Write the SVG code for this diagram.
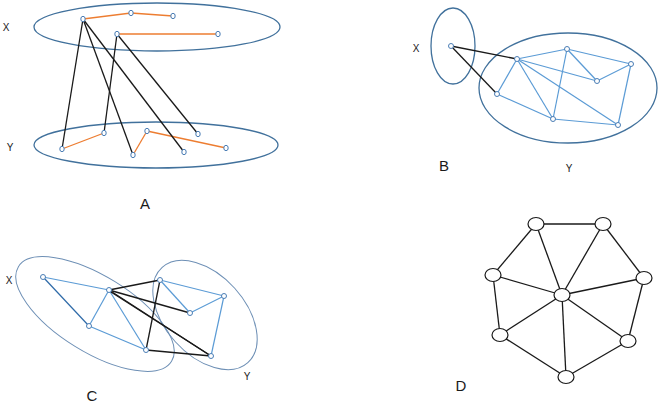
<svg xmlns="http://www.w3.org/2000/svg" width="660" height="404" viewBox="0 0 660 404">
<style>
.set{fill:none;stroke:#41719c;stroke-width:1.3}
.setc{fill:none;stroke:#6d8fb5;stroke-width:1}
.nd{fill:#fff;stroke:#4a7db5;stroke-width:1}
.or{stroke:#ed7d31;stroke-width:1.3;fill:none}
.bk{stroke:#1a1a1a;stroke-width:1.3;fill:none}
.bl{stroke:#5b9bd5;stroke-width:1.2;fill:none}
.db{stroke:#2e6aa8;stroke-width:1.2;fill:none}
.dn{fill:#fff;stroke:#1a1a1a;stroke-width:1.2}
.lb{font-family:"Liberation Sans",Arial,sans-serif;fill:#1a1a1a;text-anchor:middle}
.s{font-size:10px}
.L{font-size:15px}
</style>
<rect width="660" height="404" fill="#fff"/>

<!-- Panel A -->
<g id="A-sets">
<ellipse class="set" cx="157" cy="27" rx="123" ry="24"/>
<ellipse class="set" cx="156" cy="145" rx="122" ry="23"/>
</g>
<g id="A-connectors">
<line class="or" x1="83" y1="19" x2="131" y2="13"/>
<line class="or" x1="131" y1="13" x2="173" y2="16"/>
<line class="or" x1="117" y1="34" x2="218" y2="34"/>
<line class="or" x1="62" y1="149" x2="104" y2="133"/>
<line class="or" x1="133" y1="155" x2="147" y2="131"/>
<line class="or" x1="147" y1="131" x2="226" y2="148"/>
<line class="bk" x1="83" y1="19" x2="62" y2="149"/>
<line class="bk" x1="83" y1="19" x2="133" y2="155"/>
<line class="bk" x1="83" y1="19" x2="184" y2="152"/>
<line class="bk" x1="117" y1="34" x2="104" y2="133"/>
<line class="bk" x1="117" y1="34" x2="198" y2="134"/>
</g>
<g id="A-nodes">
<ellipse id="a1" class="nd" cx="83" cy="19" rx="2.2" ry="2.7"/>
<ellipse id="a2" class="nd" cx="131" cy="13" rx="2.2" ry="2.7"/>
<ellipse id="a3" class="nd" cx="173" cy="16" rx="2.2" ry="2.7"/>
<ellipse id="a4" class="nd" cx="117" cy="34" rx="2.2" ry="2.7"/>
<ellipse id="a5" class="nd" cx="218" cy="34" rx="2.2" ry="2.7"/>
<ellipse id="a6" class="nd" cx="62" cy="149" rx="2.2" ry="2.7"/>
<ellipse id="a7" class="nd" cx="104" cy="133" rx="2.2" ry="2.7"/>
<ellipse id="a8" class="nd" cx="133" cy="155" rx="2.2" ry="2.7"/>
<ellipse id="a9" class="nd" cx="147" cy="131" rx="2.2" ry="2.7"/>
<ellipse id="a10" class="nd" cx="184" cy="152" rx="2.2" ry="2.7"/>
<ellipse id="a11" class="nd" cx="198" cy="134" rx="2.2" ry="2.7"/>
<ellipse id="a12" class="nd" cx="226" cy="148" rx="2.2" ry="2.7"/>
</g>
<g id="A-labels">
<text class="lb s" x="6" y="31">X</text>
<text class="lb s" x="10" y="151">Y</text>
<text class="lb L" x="145" y="209">A</text>
</g>

<!-- Panel B -->
<g id="B-sets">
<ellipse class="set" cx="453" cy="46" rx="22" ry="38"/>
<ellipse class="set" cx="568" cy="88" rx="89" ry="55"/>
</g>
<g id="B-connectors">
<line class="bl" x1="517" y1="59" x2="567" y2="49"/>
<line class="bl" x1="517" y1="59" x2="497" y2="94"/>
<line class="bl" x1="517" y1="59" x2="553" y2="119"/>
<line class="bl" x1="517" y1="59" x2="597" y2="81"/>
<line class="bl" x1="517" y1="59" x2="618" y2="125"/>
<line class="bl" x1="497" y1="94" x2="553" y2="119"/>
<line class="bl" x1="567" y1="49" x2="597" y2="81"/>
<line class="bl" x1="567" y1="49" x2="631" y2="64"/>
<line class="bl" x1="597" y1="81" x2="631" y2="64"/>
<line class="bl" x1="567" y1="49" x2="553" y2="119"/>
<line class="bl" x1="553" y1="119" x2="618" y2="125"/>
<line class="bl" x1="631" y1="64" x2="618" y2="125"/>
<line class="bk" x1="451" y1="46" x2="517" y2="59"/>
<line class="bk" x1="451" y1="46" x2="497" y2="94"/>
</g>
<g id="B-nodes">
<ellipse id="b1" class="nd" cx="451" cy="46" rx="2.5" ry="2.5"/>
<ellipse id="b2" class="nd" cx="517" cy="59" rx="2.5" ry="2.5"/>
<ellipse id="b3" class="nd" cx="497" cy="94" rx="2.5" ry="2.5"/>
<ellipse id="b4" class="nd" cx="567" cy="49" rx="2.5" ry="2.5"/>
<ellipse id="b5" class="nd" cx="597" cy="81" rx="2.5" ry="2.5"/>
<ellipse id="b6" class="nd" cx="631" cy="64" rx="2.5" ry="2.5"/>
<ellipse id="b7" class="nd" cx="553" cy="119" rx="2.5" ry="2.5"/>
<ellipse id="b8" class="nd" cx="618" cy="125" rx="2.5" ry="2.5"/>
</g>
<g id="B-labels">
<text class="lb s" x="416" y="52">X</text>
<text class="lb L" x="444" y="171">B</text>
<text class="lb s" x="569" y="172">Y</text>
</g>

<!-- Panel C -->
<g id="C-sets">
<ellipse class="setc" cx="95" cy="314" rx="90" ry="38" transform="rotate(31.7 95 314)"/>
<ellipse class="setc" cx="205" cy="315" rx="64" ry="40" transform="rotate(48 205 315)"/>
</g>
<g id="C-connectors">
<line class="bl" x1="43" y1="277" x2="109" y2="290"/>
<line class="db" x1="43" y1="277" x2="89" y2="326"/>
<line class="bl" x1="109" y1="290" x2="89" y2="326"/>
<line class="bl" x1="109" y1="290" x2="146" y2="350"/>
<line class="bl" x1="89" y1="326" x2="146" y2="350"/>
<line class="bl" x1="160" y1="280" x2="224" y2="296"/>
<line class="bl" x1="160" y1="280" x2="190" y2="313"/>
<line class="bl" x1="190" y1="313" x2="224" y2="296"/>
<line class="bl" x1="224" y1="296" x2="211" y2="356"/>
<line class="bk" x1="109" y1="290" x2="160" y2="280"/>
<line class="bk" x1="109" y1="290" x2="190" y2="313"/>
<line class="bk" x1="109" y1="290" x2="211" y2="356"/>
<line class="bk" x1="111" y1="292" x2="211" y2="356"/>
<line class="bk" x1="146" y1="350" x2="160" y2="280"/>
<line class="bk" x1="146" y1="350" x2="211" y2="356"/>
</g>
<g id="C-nodes">
<ellipse id="c1" class="nd" cx="43" cy="277" rx="2.5" ry="2.5"/>
<ellipse id="c2" class="nd" cx="109" cy="290" rx="2.5" ry="2.5"/>
<ellipse id="c3" class="nd" cx="89" cy="326" rx="2.5" ry="2.5"/>
<ellipse id="c4" class="nd" cx="146" cy="350" rx="2.5" ry="2.5"/>
<ellipse id="c5" class="nd" cx="160" cy="280" rx="2.5" ry="2.5"/>
<ellipse id="c6" class="nd" cx="224" cy="296" rx="2.5" ry="2.5"/>
<ellipse id="c7" class="nd" cx="190" cy="313" rx="2.5" ry="2.5"/>
<ellipse id="c8" class="nd" cx="211" cy="356" rx="2.5" ry="2.5"/>
</g>
<g id="C-labels">
<text class="lb s" x="9" y="284">X</text>
<text class="lb s" x="247" y="380">Y</text>
<text class="lb L" x="92" y="401">C</text>
</g>

<!-- Panel D -->
<g id="D-connectors">
<line class="bk" x1="536" y1="224" x2="603" y2="224"/>
<line class="bk" x1="536" y1="224" x2="493" y2="275"/>
<line class="bk" x1="603" y1="224" x2="644" y2="278"/>
<line class="bk" x1="493" y1="275" x2="500" y2="335"/>
<line class="bk" x1="644" y1="278" x2="628" y2="341"/>
<line class="bk" x1="500" y1="335" x2="566" y2="377"/>
<line class="bk" x1="628" y1="341" x2="566" y2="377"/>
<line class="bk" x1="562" y1="295" x2="536" y2="224"/>
<line class="bk" x1="562" y1="295" x2="603" y2="224"/>
<line class="bk" x1="562" y1="295" x2="493" y2="275"/>
<line class="bk" x1="562" y1="295" x2="644" y2="278"/>
<line class="bk" x1="562" y1="295" x2="500" y2="335"/>
<line class="bk" x1="562" y1="295" x2="628" y2="341"/>
<line class="bk" x1="562" y1="295" x2="566" y2="377"/>
</g>
<g id="d1"><ellipse class="dn" cx="536" cy="224" rx="8" ry="6.5"/></g>
<g id="d2"><ellipse class="dn" cx="603" cy="224" rx="8" ry="6.5"/></g>
<g id="d3"><ellipse class="dn" cx="493" cy="275" rx="8" ry="6.5"/></g>
<g id="d4"><ellipse class="dn" cx="644" cy="278" rx="8" ry="6.5"/></g>
<g id="d5"><ellipse class="dn" cx="562" cy="295" rx="8" ry="6.5"/></g>
<g id="d6"><ellipse class="dn" cx="500" cy="335" rx="8" ry="6.5"/></g>
<g id="d7"><ellipse class="dn" cx="628" cy="341" rx="8" ry="6.5"/></g>
<g id="d8"><ellipse class="dn" cx="566" cy="377" rx="8" ry="6.5"/></g>
<text class="lb L" x="461" y="391">D</text>
</svg>
